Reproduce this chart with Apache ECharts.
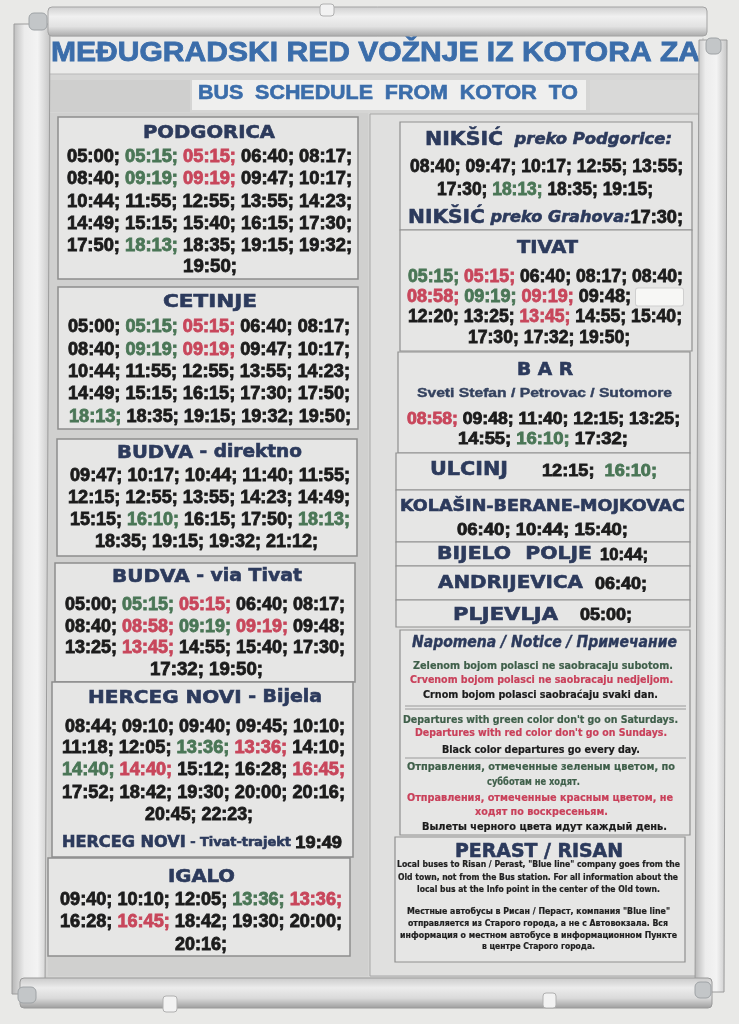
<!DOCTYPE html>
<html><head><meta charset="utf-8">
<script src="https://cdn.jsdelivr.net/npm/echarts@6/dist/echarts.min.js"></script>
<style>html,body{margin:0;padding:0;background:#e9e9e7;}#c{width:739px;height:1024px;}</style>
</head><body><div id="c"></div><script>
// ---------- DATA ----------
const titleMain = 'MEĐUGRADSKI RED VOŽNJE IZ KOTORA ZA';
const titleSub = 'BUS  SCHEDULE  FROM  KOTOR  TO';
// prefix g = green (not on Saturdays), r = red (not on Sundays), # = covered label
const podgorica = ['05:00','g05:15','r05:15','06:40','08:17','08:40','g09:19','r09:19','09:47','10:17','10:44','11:55','12:55','13:55','14:23','14:49','15:15','15:40','16:15','17:30','17:50','g18:13','18:35','19:15','19:32','19:50'];
const cetinje = ['05:00','g05:15','r05:15','06:40','08:17','08:40','g09:19','r09:19','09:47','10:17','10:44','11:55','12:55','13:55','14:23','14:49','15:15','16:15','17:30','17:50','g18:13','18:35','19:15','19:32','19:50'];
const budvaDirektno = ['09:47','10:17','10:44','11:40','11:55','12:15','12:55','13:55','14:23','14:49','15:15','g16:10','16:15','17:50','g18:13','18:35','19:15','19:32','21:12'];
const budvaViaTivat = ['05:00','g05:15','r05:15','06:40','08:17','08:40','r08:58','g09:19','r09:19','09:48','13:25','r13:45','14:55','15:40','17:30','17:32','19:50'];
const hercegNovi = ['08:44','09:10','09:40','09:45','10:10','11:18','12:05','g13:36','r13:36','14:10','g14:40','r14:40','15:12','16:28','r16:45','17:52','18:42','19:30','20:00','20:16','20:45','22:23'];
const hercegNoviTrajekt = ['19:49'];
const igalo = ['09:40','10:10','12:05','g13:36','r13:36','16:28','r16:45','18:42','19:30','20:00','20:16'];
const niksicPodgorica = ['08:40','09:47','10:17','12:55','13:55','17:30','g18:13','18:35','19:15'];
const niksicGrahovo = ['17:30'];
const tivat = ['g05:15','r05:15','06:40','08:17','08:40','r08:58','g09:19','r09:19','09:48','#','12:20','13:25','r13:45','14:55','15:40','17:30','17:32','19:50'];
const bar = ['r08:58','09:48','11:40','12:15','13:25','14:55','g16:10','17:32'];
const ulcinj = ['12:15','g16:10'];
const kolasin = ['06:40','10:44','15:40'];
const bijeloPolje = ['10:44'];
const andrijevica = ['06:40'];
const pljevlja = ['05:00'];
const noticeTitle = 'Napomena / Notice / Примечание';
const noticeLines = [
  ['g','Zelenom bojom polasci ne saobracaju subotom.'],
  ['r','Crvenom bojom polasci ne saobracaju nedjeljom.'],
  ['k','Crnom bojom polasci saobraćaju svaki dan.'],
  ['g',"Departures with green color don't go on Saturdays."],
  ['r',"Departures with red color don't go on Sundays."],
  ['k','Black color departures go every day.'],
  ['g','Отправления, отмеченные зеленым цветом, по'],
  ['g','субботам не ходят.'],
  ['r','Отправления, отмеченные красным цветом, не'],
  ['r','ходят по воскресеньям.'],
  ['k','Вылеты черного цвета идут каждый день.']
];
const perastTitle = 'PERAST / RISAN';
const perastLines = [
  'Local buses to Risan / Perast, "Blue line" company goes from the',
  'Old town, not from the Bus station. For all information about the',
  'local bus at the Info point in the center of the Old town.',
  'Местные автобусы в Рисан / Пераст, компания "Blue line"',
  'отправляется из Старого города, а не с Автовокзала. Вся',
  'информация о местном автобусе в информационном Пункте',
  'в центре Старого города.'
];

// ---------- DRAWING ----------
const NAVY='#2c3a5c', BLUE='#3b6daa', GREEN='#4a7656', RED='#c8465b', BLACK='#1b1b1b';
const NGREEN='#3f5f4a', NRED='#c9405a';
const LS='"Liberation Sans"', DV='"DejaVu Sans"';
const ctx=document.createElement('canvas').getContext('2d');
const els=[];
function rect(x1,y1,x2,y2,fill,stroke,lw,r){
  const st={fill:fill};
  if(stroke){st.stroke=stroke;st.lineWidth=lw||1;}
  els.push({type:'rect',silent:true,shape:{x:x1,y:y1,width:x2-x1,height:y2-y1,r:r||0},style:st});
}
function poly(pts,fill,stroke){
  const st={fill:fill}; if(stroke){st.stroke=stroke;st.lineWidth=1;}
  els.push({type:'polygon',silent:true,shape:{points:pts},style:st});
}
function hline(x1,x2,y,c,lw){els.push({type:'line',silent:true,shape:{x1:x1,y1:y,x2:x2,y2:y},style:{stroke:c,lineWidth:lw||1}});}
function P(t,c,fs,fam,w,it,sw){return {t:t,c:c,fs:fs,fam:fam||LS,w:w||'bold',it:!!it,sw:sw===undefined?0.6:sw};}
function fit(parts,x1,x2,cy){
  const rich={}; let text='',W=0;
  parts.forEach((p,i)=>{
    const k='p'+i;
    const st={fill:p.c,fontSize:p.fs,fontFamily:p.fam,fontWeight:p.w,fontStyle:p.it?'italic':'normal'};
    if(p.sw>0){st.stroke=p.c;st.lineWidth=p.sw;}
    if(p.box){
      Object.assign(st,{width:p.box,height:Math.round(p.fs*0.95),backgroundColor:'#f7f7f5',borderColor:'#cfcfcf',borderWidth:1,borderRadius:2});
      delete st.stroke; delete st.lineWidth;
      W+=p.box; text+='{'+k+'| }';
    } else {
      ctx.font=(p.it?'italic ':'normal ')+p.w+' '+p.fs+'px '+p.fam;
      W+=ctx.measureText(p.t).width; text+='{'+k+'|'+p.t+'}';
    }
    rich[k]=st;
  });
  els.push({type:'text',silent:true,x:(x1+x2)/2,y:cy,scaleX:(x2-x1)/W,style:{text:text,rich:rich,align:'center',verticalAlign:'middle'}});
}
function timeParts(tokens,fs){
  return tokens.map((tk,i)=>{
    const last=i===tokens.length-1;
    if(tk==='#') return {box:fs*2.6,fs:fs,c:BLACK,t:'',sw:0};
    const c=tk[0]==='g'?GREEN:tk[0]==='r'?RED:BLACK;
    const t=(tk[0]==='g'||tk[0]==='r')?tk.slice(1):tk;
    return P(t+';'+(last?'':' '),c,fs,LS,'bold',false,0.8);
  });
}
function rows(tokens,spec,fs){
  for(let i=0;i*5<tokens.length;i++){const s=spec[i];fit(timeParts(tokens.slice(i*5,i*5+5),fs),s[1],s[2],s[0]);}
}
function grad(v,stops){return new echarts.graphic.LinearGradient(0,0,v?0:1,v?1:0,stops.map((c,i)=>({offset:i/(stops.length-1),color:c})));}

// poster paper
poly([[44,34],[704,38],[702,984],[38,986]],'#d5d5d4');
// header strips
rect(46,37,702,74,'#ebebea');
hline(46,702,74,'#b9b9b9',1);
rect(50,80,190,112,'#cfcfce');
rect(192,80,586,110,'#efefee');
rect(590,80,700,112,'#d9d9d8');
fit([P(titleMain,BLUE,28,LS,'bold',false,0.8)],51,700,53);
fit([P(titleSub,BLUE,19.5,LS,'bold',false,0.6)],198,578,94);

// left column background
rect(48,113,368,976,'#d0d0cf');
// right column panel
rect(370,114,699,976,'#e0e0df','#a8a8a8',1);

// left boxes
const LB=[[58,117,358,279],[58,287,358,429],[57,439,357,556],[55,563,355,682],[52,682,353,857],[48,858,350,956]];
LB.forEach(b=>rect(b[0],b[1],b[2],b[3],'#e6e6e5','#8d8d8d',1.5));
// right boxes
const RB=[[400,122,692,230],[400,230,692,351],[398,352,690,453],[396,453,690,490],[396,490,690,542],[396,542,690,566],[396,566,690,600],[396,600,690,627],[400,630,690,835],[395,837,685,962]];
RB.forEach(b=>rect(b[0],b[1],b[2],b[3],'#e6e6e5','#8f8f8f',1.2));

// ---- left column text ----
fit([P('PODGORICA',NAVY,18,DV)],143,275,133);
rows(podgorica,[[157,67,352],[179,67,352],[202,67,352],[224,67,352],[246,67,352],[267,183,237]],18);
fit([P('CETINJE',NAVY,18,DV)],163,257,302);
rows(cetinje,[[327,68,350],[350,68,350],[372,68,350],[394,68,350],[417,69,351]],18);
fit([P('BUDVA',NAVY,18,DV),P(' - direktno',NAVY,17,DV)],117,302,453);
rows(budvaDirektno,[[476,70,350],[498,68,350],[520,70,350],[542,95,318]],18);
fit([P('BUDVA',NAVY,18,DV),P(' - via Tivat',NAVY,17,DV)],112,302,577);
rows(budvaViaTivat,[[605,65,345],[627,65,345],[648,65,345],[670,150,263]],18);
fit([P('HERCEG NOVI',NAVY,18,DV),P(' - Bijela',NAVY,17,DV)],88,322,698);
rows(hercegNovi,[[727,65,345],[748,62,345],[770,62,345],[793,62,345],[815,145,253]],18);
fit([P('HERCEG NOVI',NAVY,15,DV),P(' - Tivat-trajekt ',NAVY,12,DV),P(hercegNoviTrajekt[0],BLACK,17,LS,'bold',false,0.8)],62,342,843);
fit([P('IGALO',NAVY,18,DV)],168,235,877);
rows(igalo,[[900,60,342],[922,60,342],[945,175,227]],18);

// ---- right column text ----
fit([P('NIKŠIĆ',NAVY,20,DV),P('  preko Podgorice:',NAVY,16,DV,'bold',true)],425,672,140);
rows(niksicPodgorica,[[167,410,683],[190,437,653]],18);
fit([P('NIKŠIĆ',NAVY,20,DV),P(' preko Grahova:',NAVY,16,DV,'bold',true),P(niksicGrahovo[0]+';',BLACK,18,LS,'bold',false,0.8)],408,683,218);
fit([P('TIVAT',NAVY,18,DV)],517,578,248);
rows(tivat,[[277,408,683],[297,407,683],[317,408,682],[338,468,630]],18);
fit([P('B A R',NAVY,18,DV)],517,573,370);
fit([P('Sveti Stefan / Petrovac / Sutomore','#34425f',13,LS,'bold',false,0.4)],417,672,393);
rows(bar,[[420,407,680],[440,458,628]],16);
fit([P('ULCINJ',NAVY,19,DV)],430,508,470);
fit(timeParts(ulcinj,17).map((p,i)=>i===0?Object.assign(p,{t:p.t+' '}):p),542,657,471);
fit([P('KOLAŠIN-BERANE-MOJKOVAC',NAVY,16,DV)],400,685,507);
fit(timeParts(kolasin,17),457,628,530);
fit([P('BIJELO  POLJE',NAVY,18,DV)],437,592,554);
fit(timeParts(bijeloPolje,16),600,648,556);
fit([P('ANDRIJEVICA',NAVY,18,DV)],438,583,583);
fit(timeParts(andrijevica,16),595,647,585);
fit([P('PLJEVLJA',NAVY,18,DV)],453,558,615);
fit(timeParts(pljevlja,16),580,632,616);

// notice
fit([P(noticeTitle,NAVY,15,DV,'bold',true,0.4)],412,677,643);
const NP=[[666,413,673],[680,410,673],[695,423,658],[720,403,678],[733,415,667],[750,442,640],[767,407,675],[782,487,580],[798,407,673],[812,475,608],[827,422,667]];
noticeLines.forEach((l,i)=>{const c=l[0]==='g'?NGREEN:l[0]==='r'?NRED:BLACK;fit([P(l[1],c,10,DV,'bold',false,0.2)],NP[i][1],NP[i][2],NP[i][0]);});
hline(405,686,706,'#9a9a9a',1);hline(405,686,709,'#9a9a9a',1);
hline(405,686,758,'#9a9a9a',1);
// perast
fit([P(perastTitle,NAVY,20,DV)],455,623,852);
const PP=[[865,397,680],[878,398,678],[890,417,660],[912,407,670],[924,408,668],[936,400,677],[947,482,595]];
perastLines.forEach((l,i)=>fit([P(l,'#202020',8.5,DV,'bold',false,0.2)],PP[i][1],PP[i][2],PP[i][0]));

// ---- aluminium frame ----
const silverH=grad(true,['#cfcfcf','#f0f0f0','#e2e2e2','#a9a9a9']);
const silverV=grad(false,['#b5b5b5','#ececec','#f3f3f3','#c4c4c4']);
poly([[14,24],[50,24],[45,994],[12,994]],silverV,'#9c9c9c');
poly([[699,40],[727,40],[724,992],[695,992]],silverV,'#9c9c9c');
rect(48,7,707,36,silverH,'#a3a3a3',1,4);
rect(20,978,712,1008,grad(true,['#c9c9c9','#ececec','#dadada','#9c9c9c']),'#9a9a9a',1,4);
// corner pieces
rect(29,13,47,30,'#c3c6c8','#9ea2a5',1,5);
rect(706,38,721,54,'#c3c6c8','#9ea2a5',1,5);
rect(18,987,36,1003,'#c3c6c8','#9ea2a5',1,5);
rect(695,982,711,998,'#c3c6c8','#9ea2a5',1,5);
// clips
rect(163,996,177,1012,'#f2f2f2','#b0b0b0',1,3);
rect(543,993,556,1008,'#f2f2f2','#b0b0b0',1,3);
rect(320,4,334,16,'#f2f2f2','#b0b0b0',1,3);

const chart=echarts.init(document.getElementById('c'),null,{renderer:'canvas',width:739,height:1024});
chart.setOption({animation:false,graphic:{elements:els}});
</script></body></html>
